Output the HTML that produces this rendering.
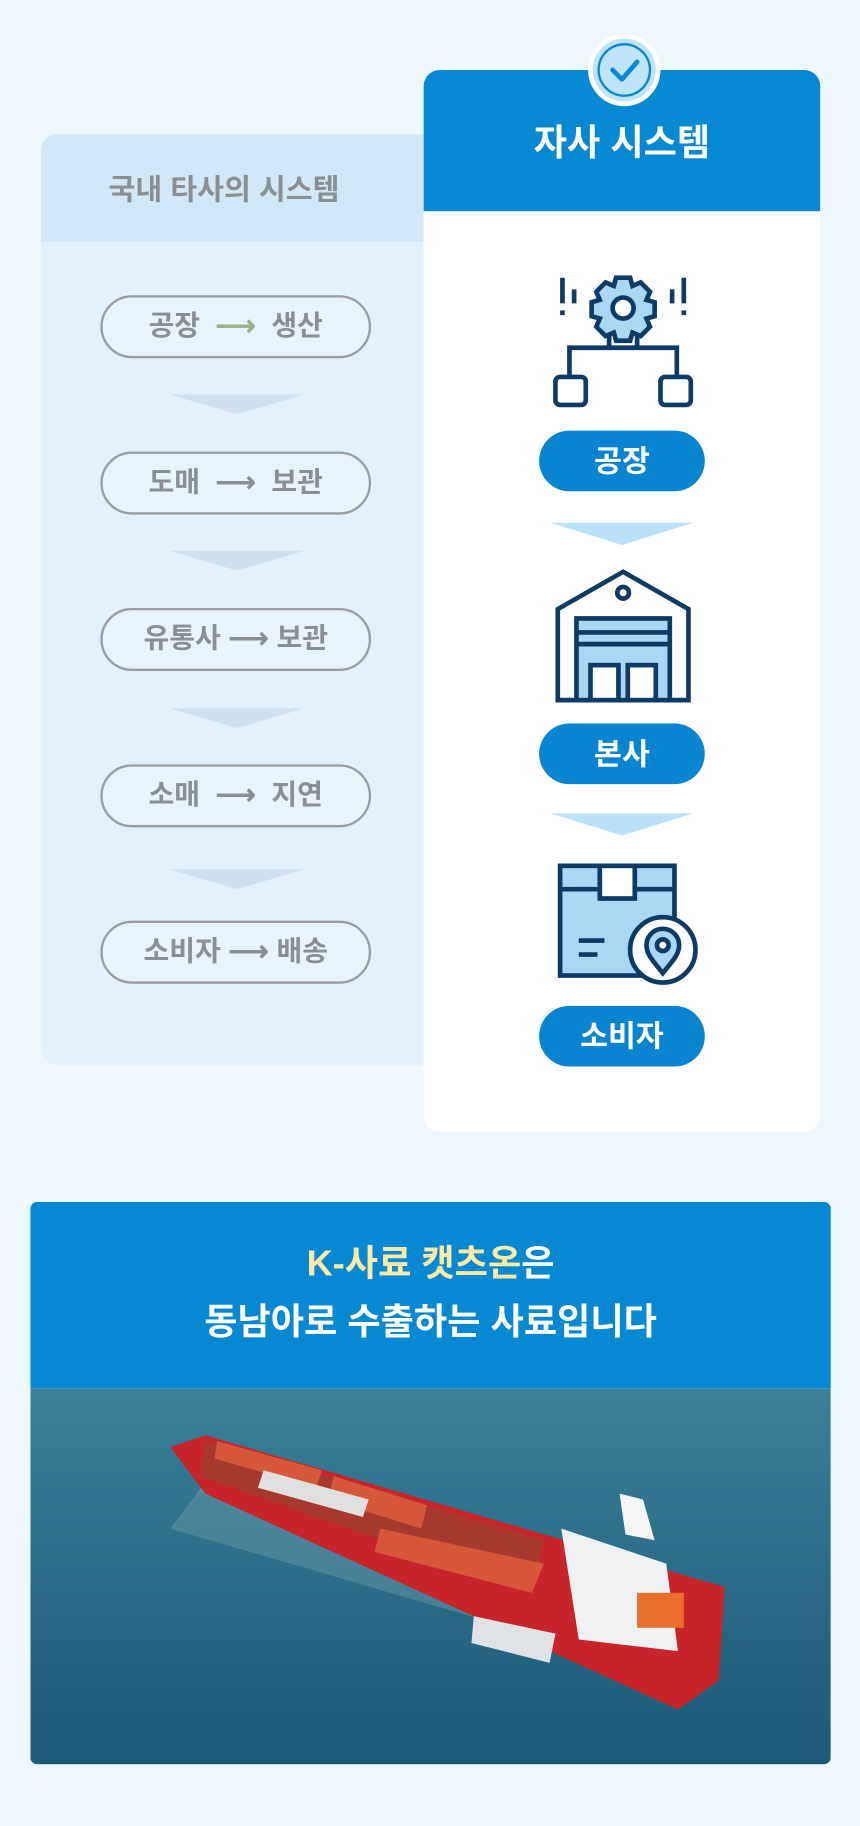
<!DOCTYPE html>
<html><head><meta charset="utf-8"><style>
html,body{margin:0;padding:0;}
body{width:860px;height:1826px;overflow:hidden;background:#eef7fc;font-family:"Liberation Sans","Noto Sans CJK KR",sans-serif;}
#w{width:737px;height:1565px;transform:scale(1.1669);transform-origin:0 0;position:relative;}
.a{position:absolute;}
.lp{left:35px;top:115px;width:340px;height:798px;background:#e2f1fb;border-radius:14px;overflow:hidden;}
.lh{height:92px;background:#d3e8f6;color:#8a8f94;font-weight:bold;font-size:25px;line-height:96px;text-indent:58px;}
.pill{left:86px;width:228px;height:50px;border:2px solid #9a9ea3;border-radius:27px;color:#8a8f94;font-weight:bold;font-size:24px;line-height:50px;text-align:center;background:#e8f4fc;}
.chev{left:145px;width:0;height:0;border-left:58px solid transparent;border-right:58px solid transparent;border-top:17px solid #cfe1ee;}
.rp{left:363px;top:60px;width:340px;height:910px;background:#fff;border-radius:14px;overflow:hidden;}
.rh{height:121px;background:#0788d2;color:#fff;font-weight:bold;font-size:31px;line-height:126px;text-align:center;}
.bp{left:462px;width:142px;height:52px;border-radius:26px;background:#0884d0;color:#fff;font-weight:bold;font-size:26px;line-height:52px;text-align:center;}
.bc{left:472px;width:0;height:0;border-left:61px solid transparent;border-right:61px solid transparent;border-top:19px solid #b9e1f7;}
</style></head><body><div id="w">
<div class="a lp"><div class="lh">국내 타사의 시스템</div></div>
<div class="a pill" style="top:253px">공장 &nbsp;<span style="color:#9bb08a">⟶</span>&nbsp; 생산</div>
<div class="a chev" style="top:338px"></div>
<div class="a pill" style="top:387px">도매 &nbsp;⟶&nbsp; 보관</div>
<div class="a chev" style="top:472px"></div>
<div class="a pill" style="top:521px">유통사 ⟶ 보관</div>
<div class="a chev" style="top:607px"></div>
<div class="a pill" style="top:655px">소매 &nbsp;⟶&nbsp; 지연</div>
<div class="a chev" style="top:745px"></div>
<div class="a pill" style="top:789px">소비자 ⟶ 배송</div>

<div class="a rp"><div class="rh">자사 시스템</div></div>
<svg class="a" style="left:503px;top:28px" width="64" height="64"><circle cx="32" cy="32" r="29" fill="#bfe3f7" stroke="#fff" stroke-width="4"/><circle cx="32" cy="32" r="22" fill="none" stroke="#0788d2" stroke-width="2"/><path d="M22 32 L30 40 L43 25" fill="none" stroke="#0788d2" stroke-width="4" stroke-linecap="round" stroke-linejoin="round"/></svg>

<svg class="a" style="left:470px;top:228px" width="128" height="125" stroke="#0d3b66" stroke-width="4" fill="none">
<g transform="translate(64,36)"><path d="M-6 -26 h12 l2 7 l7 -3 l8 8 l-3 7 l7 2 v12 l-7 2 l3 7 l-8 8 l-7 -3 l-2 7 h-12 l-2 -7 l-7 3 l-8 -8 l3 -7 l-7 -2 v-12 l7 -2 l-3 -7 l8 -8 l7 3 z" fill="#a9d8f5"/><circle r="9" fill="#fff"/></g>
<path d="M12 10 v22 M12 38 v4 M116 10 v22 M116 38 v4 M22 20 v12 M106 20 v12"/>
<path d="M18 95 v-25 h92 v25 M52 70 v-10 M76 70 v-10"/>
<rect x="6" y="95" width="26" height="24" rx="4" fill="#fff"/><rect x="96" y="95" width="26" height="24" rx="4" fill="#fff"/>
</svg>
<div class="a bp" style="top:369px">공장</div>
<div class="a bc" style="top:448px"></div>
<svg class="a" style="left:474px;top:486px" width="120" height="118" stroke="#0d3b66" stroke-width="4" fill="none">
<path d="M4 36 L60 4 L116 36 V114 H4 Z" fill="#fff"/><circle cx="60" cy="22" r="5"/>
<rect x="20" y="44" width="80" height="70" fill="#a9d8f5"/><path d="M20 56 h80 M20 66 h80"/>
<rect x="32" y="84" width="24" height="30" fill="#fff"/><rect x="64" y="84" width="24" height="30" fill="#fff"/>
</svg>
<div class="a bp" style="top:620px">본사</div>
<div class="a bc" style="top:697px"></div>
<svg class="a" style="left:474px;top:738px" width="128" height="110" stroke="#0d3b66" stroke-width="4" fill="none">
<rect x="6" y="4" width="98" height="94" fill="#a9d8f5"/><path d="M6 24 h98"/><rect x="40" y="4" width="30" height="28" fill="#fff"/>
<path d="M22 68 h22 M22 80 h16"/>
<circle cx="94" cy="76" r="28" fill="#fff"/><path d="M94 96 c-8 -10 -14 -16 -14 -24 a14 14 0 0 1 28 0 c0 8 -6 14 -14 24z" fill="#a9d8f5"/><circle cx="94" cy="72" r="5" fill="#fff"/>
</svg>
<div class="a bp" style="top:862px">소비자</div>

<div class="a" style="left:26px;top:1030px;width:686px;height:482px;border-radius:6px;overflow:hidden;">
<div style="height:160px;background:#0788d2;color:#fff;font-weight:bold;font-size:31px;text-align:center;line-height:50px;padding-top:28px;box-sizing:border-box;"><span style="color:#ffe9a3">K-사료 캣츠온</span>은<br>동남아로 수출하는 사료입니다</div>
<svg width="686" height="322" style="display:block">
<defs><linearGradient id="s" x1="0" y1="0" x2="0" y2="1"><stop offset="0" stop-color="#3b7f99"/><stop offset="1" stop-color="#1d5a78"/></linearGradient></defs>
<rect width="686" height="322" fill="url(#s)"/>
<path d="M150 80 L400 200 L600 260 L120 120 Z" fill="#7fa9b8" opacity=".35"/>
<path d="M120 50 L150 40 L595 170 L590 250 L555 275 L150 90 Z" fill="#c8252a"/>
<path d="M150 45 L440 130 L430 175 L145 75 Z" fill="#a53a2c"/>
<path d="M160 45 L250 70 L245 85 L158 60 Z M260 75 L340 100 L335 120 L255 95Z M300 120 L440 150 L430 175 L295 140Z" fill="#d6573a"/>
<path d="M200 70 L290 95 L285 110 L195 85Z" fill="#e0e0e0"/>
<path d="M380 195 L450 210 L445 235 L378 218Z" fill="#dfe3e6"/>
<path d="M455 120 L545 150 L555 225 L470 215 Z" fill="#eef0f2"/>
<path d="M505 90 L525 95 L535 130 L510 125Z" fill="#f4f4f4"/>
<rect x="520" y="175" width="40" height="30" fill="#e8702a"/>
</svg>
</div>
</div></body></html>
